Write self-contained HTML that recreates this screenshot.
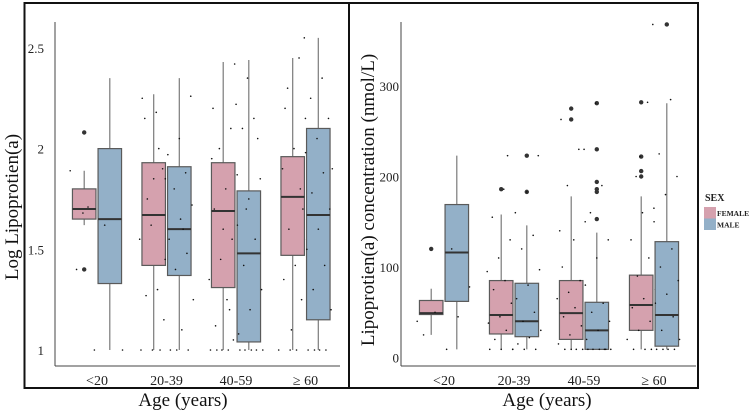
<!DOCTYPE html>
<html><head><meta charset="utf-8"><style>
html,body{margin:0;background:#fff;overflow:hidden;width:753px;height:418px}
svg{display:block;font-family:"Liberation Serif",serif}
</style></head><body>
<svg id="c" width="753" height="418" viewBox="0 0 753 418" xmlns="http://www.w3.org/2000/svg"></svg>
<script>
const categories=["<20","20-39","40-59","≥ 60"];
const sexes=["FEMALE","MALE"];
// left panel: [lo,q1,med,q3,hi] female then male per category
const logFemale=[[1.62,1.65,1.70,1.80,1.89],[1.0,1.42,1.67,1.93,2.27],[1.0,1.31,1.69,1.93,2.43],[1.0,1.47,1.76,1.96,2.45]];
const logMale=[[1.0,1.33,1.65,2.0,2.35],[1.0,1.37,1.60,1.91,2.35],[1.0,1.04,1.48,1.79,2.44],[1.0,1.15,1.67,2.10,2.55]];
const logOutF=[[2.08,1.40],[],[],[]];
const logOutM=[[],[],[],[]];
const logJitF=[[1.89,1.71,1.40,1.0,1.68],[2.18,2.15,1.9,1.62,1.55,1.3,1.27,1.15,1.0,1.0,2.0,1.75,1.45,1.85,2.25,1.0],[2.2,2.1,2.0,1.87,1.8,1.7,1.55,1.45,1.35,1.25,1.12,1.05,1.0,1.0,1.0,1.0,2.42,1.6,1.95,1.2],[2.45,2.3,2.15,2.0,1.9,1.8,1.6,1.55,1.42,1.35,1.25,1.0,1.0,1.0,2.2,1.7,1.1]];
const logJitM=[[1.62,1.0],[2.26,2.05,1.97,1.88,1.8,1.72,1.65,1.55,1.48,1.4,1.25,1.1,1.0,1.0,1.0,1.85,1.6],[2.35,2.22,2.15,2.1,1.85,1.75,1.62,1.55,1.42,1.3,1.2,1.08,1.0,1.0,1.0,1.0,1.0,2.05,1.7],[2.55,2.35,2.25,2.15,2.05,1.98,1.88,1.78,1.7,1.6,1.5,1.42,1.3,1.2,1.0,1.0,1.0,1.0,1.9]];
const leftTicks=[1,1.5,2,2.5];
const leftTickLabels=["1","1.5","2","2.5"];
// right panel
const concFemale=[[25,47.5,49,63,76],[9,26,47,85,158],[9,20,49,85,178],[9,30,58,91,178]];
const concMale=[[9,62,116,169,223],[9,23,40,82,146],[9,9,30,61,138],[9,12.5,47,128,281]];
const concOutF=[[120],[186],[275,263],[282,222,206,200]];
const concOutM=[[],[223,183],[281,230,194,186,183,153],[368]];
const concJitF=[[40,50,25],[186,155,130,110,95,85,75,60,45,38,30,20,9,9,9,223],[263,230,190,150,130,100,85,72,65,55,45,35,25,15,9,9,9,9,140],[282,200,165,160,130,110,90,75,65,55,40,30,20,9,9,9,222]];
const concJitM=[[120,78,45,9],[223,183,160,135,120,97,80,65,50,40,30,22,15,9,9,9],[281,230,190,160,130,110,80,60,50,40,30,20,9,9,9,9,9,9],[368,285,225,200,180,150,120,100,85,70,60,45,30,20,9,9,9,9]];
const rightTicks=[0,100,200,300];
const rightTickLabels=["0","100","200","300"];

const NS="http://www.w3.org/2000/svg";
const svg=document.getElementById('c');
function mk(tag,attrs,parent,txt){const e=document.createElementNS(NS,tag);for(const k in attrs)e.setAttribute(k,attrs[k]);if(txt!==undefined)e.textContent=txt;(parent||svg).appendChild(e);return e;}
const FILL={FEMALE:"#d5a1ae",MALE:"#93b0c8"};

function panel(cfg){
  const g=mk('g',{});
  
  
  const y=v=>cfg.y0+(v-cfg.v0)*cfg.k;
  const xc=i=>cfg.x0+i*cfg.dx;
  const ax=mk('line',{x1:cfg.ax,y1:22,x2:cfg.ax,y2:366,stroke:'#444','stroke-width':1},g);
  
  const bx=mk('line',{x1:cfg.ax,y1:366,x2:cfg.axEnd,y2:366,stroke:'#444','stroke-width':1},g);
  
  cfg.ticks.forEach((t,i)=>{
    const tl=mk('text',{x:cfg.tickX,y:y(t)+5,'text-anchor':'end','font-size':13,fill:'#222'},g,cfg.tickLabels[i]);
    
  });
  categories.forEach((c,i)=>{
    const tl=mk('text',{x:xc(i),y:385,'text-anchor':'middle','font-size':14,fill:'#222'},g,c);
    
    [[cfg.f,cfg.of,cfg.jf,'FEMALE',-1],[cfg.m,cfg.om,cfg.jm,'MALE',1]].forEach(([st,out,jit,sx,sg])=>{
      const s=st[i];const cx=xc(i)+sg*12.8;const w=23.5;
      const bg=mk('g',{},g);
      
      
      mk('line',{x1:cx,x2:cx,y1:y(s[0]),y2:y(s[4]),stroke:'#7a7a7a','stroke-width':1.2},bg);
      mk('rect',{x:cx-w/2,y:y(s[3]),width:w,height:y(s[1])-y(s[3]),fill:FILL[sx],stroke:'#5a5a5a','stroke-width':1.2},bg);
      mk('line',{x1:cx-w/2,x2:cx+w/2,y1:y(s[2]),y2:y(s[2]),stroke:'#333','stroke-width':2},bg);
      out[i].forEach(v=>{const o=mk('circle',{cx:cx,cy:y(v),r:2.2,fill:'#333'},bg);
        });
      jit[i].forEach((v,j)=>{const off=(((j*37+i*13+(sg>0?7:0))%23)/22-0.5)*28;
        const d=mk('circle',{cx:cx+off,cy:y(v),r:0.8,fill:'#111'},bg);
        });
    });
  });
  const yt=mk('text',{transform:`translate(${cfg.titleX},${cfg.titleY}) rotate(-90)`,'text-anchor':'middle','font-size':19,fill:'#111'},g,cfg.title);
  
  const xt=mk('text',{x:cfg.xTitleX,y:406,'text-anchor':'middle','font-size':19,fill:'#111'},g,'Age (years)');
  
}
panel({name:'log-panel',ax:55,axEnd:340,tickX:44,x0:97,dx:69.5,y0:350,v0:1,k:-201.4,ticks:leftTicks,tickLabels:leftTickLabels,
  f:logFemale,m:logMale,of:logOutF,om:logOutM,jf:logJitF,jm:logJitM,title:'Log Lipoprotien(a)',titleX:18,titleY:207,xTitleX:183});
panel({name:'concentration-panel',ax:401,axEnd:696,tickX:399,x0:444,dx:70,y0:357.5,v0:0,k:-0.905,ticks:rightTicks,tickLabels:rightTickLabels,
  f:concFemale,m:concMale,of:concOutF,om:concOutM,jf:concJitF,jm:concJitM,title:'Lipoprotien(a) concentration (nmol/L)',titleX:374,titleY:200,xTitleX:547});
const b1=mk('rect',{x:24.5,y:3,width:324.5,height:385,fill:'none',stroke:'#111','stroke-width':2});

const b2=mk('rect',{x:349,y:3,width:349,height:385,fill:'none',stroke:'#111','stroke-width':2});

const lg=mk('g',{});

mk('text',{x:705,y:201,'font-size':10,'font-weight':'bold',fill:'#222'},lg,'SEX');
sexes.forEach((s,i)=>{
  const e=mk('g',{},lg);
  
  
  mk('rect',{x:704,y:207+i*11.5,width:12,height:11.5,fill:FILL[s]},e);
  mk('text',{x:717,y:216+i*11.5,'font-size':7.5,'font-weight':'bold',fill:'#222'},e,s);
});
</script>
</body></html>
